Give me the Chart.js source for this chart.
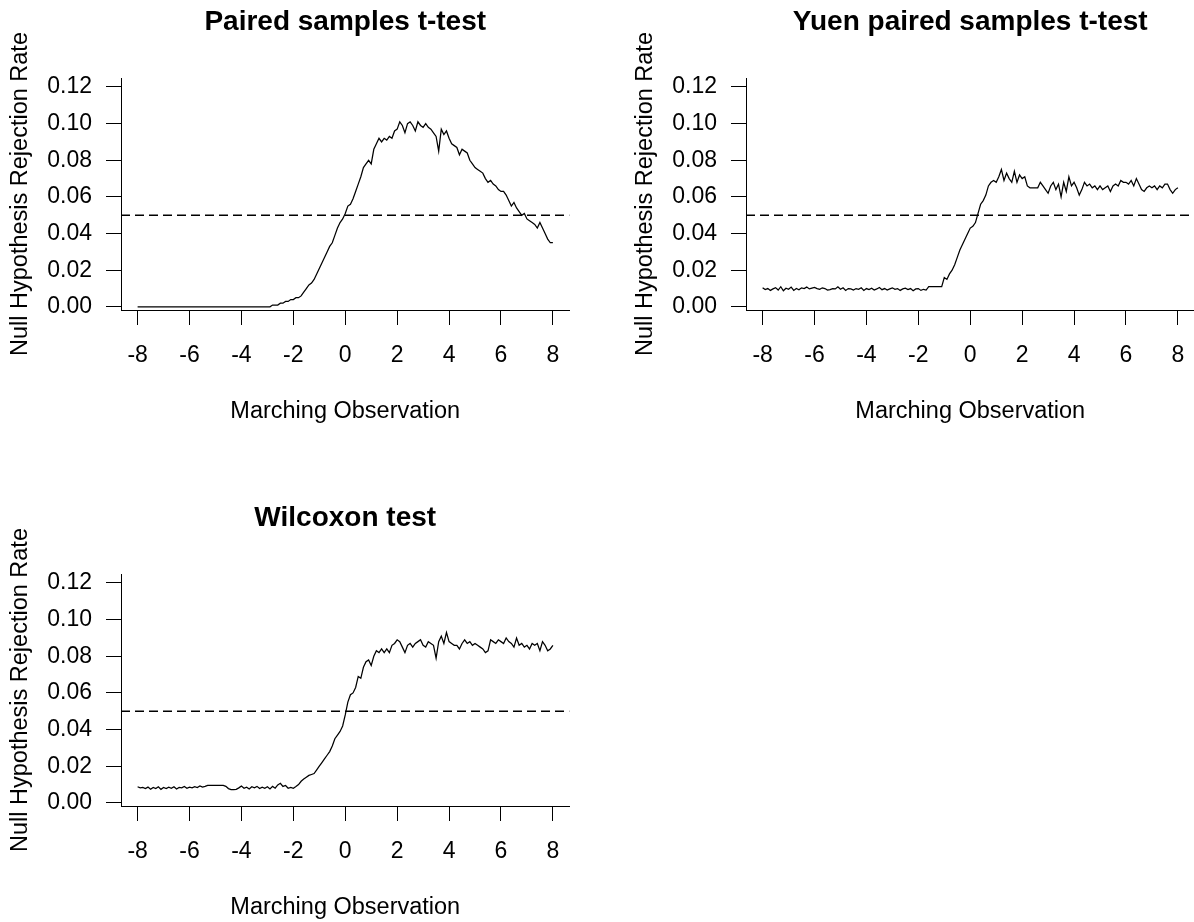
<!DOCTYPE html>
<html>
<head>
<meta charset="utf-8">
<title>Null hypothesis rejection rate</title>
<script src="https://cdn.jsdelivr.net/npm/chart.js@4.4.1/dist/chart.umd.min.js"></script>
<style>
html, body { margin: 0; padding: 0; overflow: hidden; background: #fff; width: 1194px; height: 922px; }
canvas { position: absolute; }
</style>
</head>
<body>
<canvas id="paired" width="597" height="461" style="left:0px;top:0px"></canvas>
<canvas id="yuen" width="597" height="461" style="left:625px;top:0px"></canvas>
<canvas id="wilcoxon" width="597" height="461" style="left:0px;top:496px"></canvas>
<script>
'use strict';

// marching observation grid, -8 to 8 by 0.1
const X_FROM = -8;
const X_TO = 8;
const X_STEP = 0.1;
const X_TICKS = [-8, -6, -4, -2, 0, 2, 4, 6, 8];
const Y_TICKS = [0, 0.02, 0.04, 0.06, 0.08, 0.10, 0.12];
const ALPHA = 0.05;

const titles = ['Paired samples t-test', 'Yuen paired samples t-test', 'Wilcoxon test'];
const xLabel = 'Marching Observation';
const yLabel = 'Null Hypothesis Rejection Rate';

let pairedT = [
  0,0,0,0,0,0,0,0,0,0,
  0,0,0,0,0,0,0,0,0,0,
  0,0,0,0,0,0,0,0,0,0,
  0,0,0,0,0,0,0,0,0,0,
  0,0,0,0,0,0,0,0,0,0,
  0,
  0, 0.001, 0.001, 0.001, 0.002, 0.002, 0.003, 0.003, 0.004, 0.004,
  0.005, 0.005, 0.006, 0.008, 0.010, 0.012, 0.013, 0.015, 0.018, 0.021,
  0.024, 0.027, 0.030, 0.033, 0.035, 0.039, 0.043, 0.046, 0.048, 0.051,
  0.055, 0.056, 0.059, 0.063, 0.067, 0.071, 0.076, 0.078, 0.080, 0.078,
  0.086, 0.089, 0.092, 0.090, 0.092, 0.091, 0.093, 0.092, 0.096, 0.097,
  0.101, 0.099, 0.095, 0.100, 0.101, 0.099, 0.096, 0.101, 0.099, 0.098,
  0.100, 0.098, 0.097, 0.095, 0.093, 0.085, 0.097, 0.094, 0.096, 0.092,
  0.089, 0.088, 0.087, 0.083, 0.086, 0.085, 0.084, 0.080, 0.078, 0.076,
  0.075, 0.074, 0.073, 0.070, 0.068, 0.069, 0.067, 0.066, 0.064, 0.063,
  0.063, 0.061, 0.058, 0.055, 0.057, 0.054, 0.052, 0.050, 0.051, 0.048,
  0.047, 0.046, 0.045, 0.043, 0.046, 0.043, 0.040, 0.037, 0.035, 0.035
];

let yuenT = [
  0.0105, 0.0095, 0.0100, 0.0090, 0.0098, 0.0105, 0.0092, 0.0110, 0.0088, 0.0102,
  0.0096, 0.0108, 0.0090, 0.0100, 0.0093, 0.0104, 0.0100, 0.0108, 0.0098, 0.0102,
  0.0106, 0.0100, 0.0096, 0.0104, 0.0100, 0.0092, 0.0094, 0.0100, 0.0098, 0.0110,
  0.0096, 0.0104, 0.0090, 0.0100, 0.0098, 0.0092, 0.0100, 0.0096, 0.0104, 0.0090,
  0.0100, 0.0094, 0.0102, 0.0092, 0.0098, 0.0106, 0.0094, 0.0100, 0.0092, 0.0098,
  0.0104, 0.0096, 0.0100, 0.0090, 0.0098, 0.0102, 0.0094, 0.0100, 0.0088, 0.0098,
  0.0100, 0.0090, 0.0096, 0.0092,
  0.011, 0.011, 0.011, 0.011, 0.011, 0.011,
  0.016, 0.015, 0.018, 0.020, 0.023, 0.027, 0.031, 0.034, 0.037, 0.040,
  0.043, 0.044, 0.046, 0.051, 0.056, 0.058, 0.061, 0.066, 0.068, 0.069,
  0.068, 0.071, 0.075, 0.069, 0.073, 0.070, 0.068, 0.074, 0.068, 0.072,
  0.070, 0.071, 0.066, 0.065, 0.065, 0.065, 0.065, 0.068, 0.066, 0.064,
  0.062, 0.066, 0.068, 0.064, 0.067, 0.060, 0.068, 0.063, 0.071, 0.066,
  0.068, 0.065, 0.061, 0.064, 0.068, 0.066, 0.067, 0.065, 0.066, 0.064,
  0.066, 0.064, 0.065, 0.066, 0.063, 0.066, 0.067, 0.066, 0.069, 0.068,
  0.068, 0.067, 0.069, 0.066, 0.070, 0.067, 0.064, 0.063, 0.065, 0.066,
  0.065, 0.066, 0.064, 0.066, 0.065, 0.067, 0.067, 0.064, 0.062, 0.064,
  0.065
];

let wilcoxon = [
  0.0088, 0.0082, 0.0084, 0.0078, 0.0086, 0.0074, 0.0084, 0.0078, 0.0088, 0.0074,
  0.0084, 0.0078, 0.0086, 0.0080, 0.0088, 0.0076, 0.0084, 0.0082, 0.0090, 0.0080,
  0.0086, 0.0082, 0.0088, 0.0084, 0.0092, 0.0086, 0.0090, 0.0095, 0.0095, 0.0095,
  0.0095, 0.0095, 0.0095, 0.0095, 0.0090, 0.0078, 0.0072, 0.0072, 0.0074, 0.0082,
  0.0092, 0.0080, 0.0086, 0.0076, 0.0088, 0.0082, 0.0090, 0.0078, 0.0086, 0.0080,
  0.0088, 0.0076, 0.0090, 0.0080, 0.0098,
  0.0107, 0.0090, 0.0095, 0.0080, 0.0085, 0.0080, 0.0089, 0.0100, 0.0118, 0.0130,
  0.0140, 0.0150, 0.0155, 0.0160, 0.0180, 0.0200, 0.0220, 0.0240, 0.0260, 0.0280,
  0.031, 0.035, 0.037, 0.039, 0.042, 0.048, 0.055, 0.059, 0.060, 0.063,
  0.069, 0.068, 0.074, 0.077, 0.078, 0.075, 0.080, 0.083, 0.082, 0.084,
  0.082, 0.084, 0.082, 0.086, 0.087, 0.089, 0.088, 0.085, 0.082, 0.086,
  0.087, 0.085, 0.087, 0.088, 0.089, 0.086, 0.085, 0.088, 0.087, 0.086,
  0.079, 0.088, 0.091, 0.087, 0.093, 0.088, 0.087, 0.086, 0.086, 0.084,
  0.087, 0.089, 0.087, 0.088, 0.086, 0.087, 0.086, 0.085, 0.084, 0.082,
  0.083, 0.089, 0.088, 0.087, 0.089, 0.088, 0.087, 0.090, 0.088, 0.087,
  0.085, 0.090, 0.086, 0.087, 0.085, 0.086, 0.084, 0.087, 0.086, 0.087,
  0.083, 0.088, 0.086, 0.083, 0.084, 0.086
];

let xValues = [];
for (let i = 0; X_FROM + i * X_STEP <= X_TO + 1e-9; i++) {
  xValues.push(Math.round((X_FROM + i * X_STEP) * 10) / 10);
}

// R pads the axis range by 4% on both sides
const X_MIN = -8.64;
const X_MAX = 8.64;
const Y_MIN = -0.0017;
const Y_MAX = 0.1249;

const FONT = "'Liberation Sans', Arial, sans-serif";
const BLACK = '#000';

function makeChart(id, title, values) {
  let points = xValues.map(function (x, i) { return {x: x, y: values[i]}; });
  let alphaLine = [{x: X_MIN, y: ALPHA}, {x: X_MAX, y: ALPHA}];

  return new Chart(document.getElementById(id), {
    type: 'line',
    data: {
      datasets: [{
        data: points,
        borderColor: BLACK,
        borderWidth: 1.25,
        pointRadius: 0,
        tension: 0
      }, {
        data: alphaLine,
        borderColor: BLACK,
        borderWidth: 1.4,
        borderDash: [9, 5],
        pointRadius: 0
      }]
    },
    options: {
      responsive: false,
      animation: false,
      devicePixelRatio: 1,
      layout: { padding: { left: 0, right: 27.5, top: 0, bottom: 0 } },
      plugins: {
        legend: { display: false },
        tooltip: { enabled: false },
        title: {
          display: true,
          text: title,
          fullSize: false,
          color: BLACK,
          font: { family: FONT, size: 28, weight: 'bold', lineHeight: 1.2 },
          padding: { top: 5.7, bottom: 38.7 }
        }
      },
      scales: {
        x: {
          type: 'linear',
          min: X_MIN,
          max: X_MAX,
          afterFit: function (scale) { scale.height = 151; },
          afterBuildTicks: function (scale) {
            scale.ticks = X_TICKS.map(function (v) { return {value: v}; });
          },
          grid: { drawOnChartArea: false, drawTicks: true, tickLength: 15, color: BLACK, tickWidth: 1 },
          border: { display: true, color: BLACK, width: 1 },
          ticks: {
            padding: 17,
            color: BLACK,
            autoSkip: false,
            maxRotation: 0,
            font: { family: FONT, size: 23, lineHeight: 1.2 },
            callback: function (v) { return String(v); }
          },
          title: {
            display: true,
            text: xLabel,
            color: BLACK,
            font: { family: FONT, size: 23.5, lineHeight: 1.2 },
            padding: { top: 0, bottom: 35 }
          }
        },
        y: {
          min: Y_MIN,
          max: Y_MAX,
          afterFit: function (scale) { scale.width = 121; },
          afterBuildTicks: function (scale) {
            scale.ticks = Y_TICKS.map(function (v) { return {value: v}; });
          },
          grid: { drawOnChartArea: false, drawTicks: true, tickLength: 15, color: BLACK, tickWidth: 1 },
          border: { display: true, color: BLACK, width: 1 },
          ticks: {
            padding: 14,
            color: BLACK,
            autoSkip: false,
            font: { family: FONT, size: 23, lineHeight: 1.2 },
            callback: function (v) { return v.toFixed(2); }
          },
          title: {
            display: true,
            text: yLabel,
            color: BLACK,
            font: { family: FONT, size: 23.5, lineHeight: 1.2 },
            padding: { top: 6, bottom: 0 }
          }
        }
      }
    }
  });
}

makeChart('paired', titles[0], pairedT);
makeChart('yuen', titles[1], yuenT);
makeChart('wilcoxon', titles[2], wilcoxon);
</script>
</body>
</html>
